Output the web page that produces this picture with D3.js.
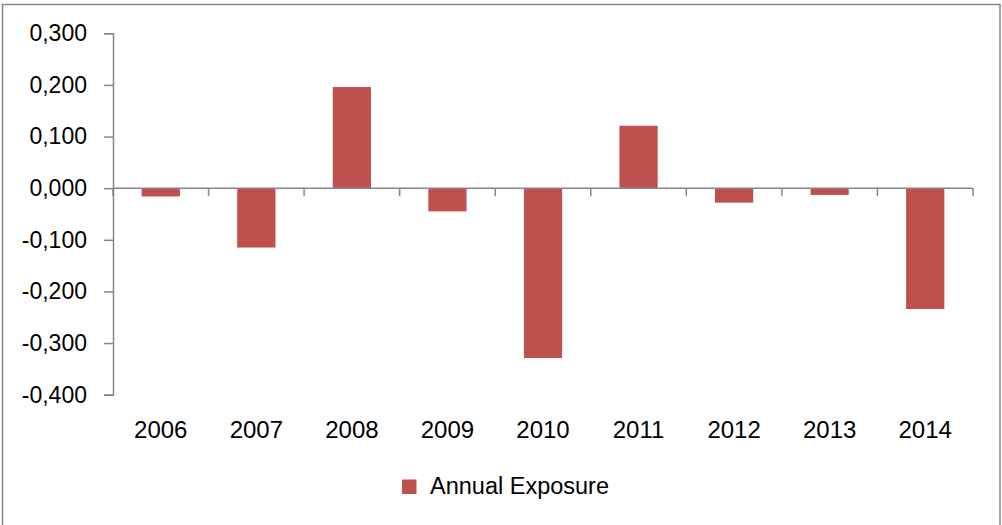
<!DOCTYPE html>
<html>
<head>
<meta charset="utf-8">
<script src="https://cdn.jsdelivr.net/npm/d3@7"></script>
<style>
  html, body { margin: 0; padding: 0; background: #fff; }
  svg { display: block; font-family: "Liberation Sans", Arial, sans-serif; }
</style>
</head>
<body>
<svg id="chart" width="1002" height="525"></svg>
<script>
// Yearly exposure values
const years = ["2006", "2007", "2008", "2009", "2010", "2011", "2012", "2013", "2014"];
const exposure = [-0.016, -0.115, 0.196, -0.045, -0.329, 0.121, -0.028, -0.013, -0.234];
const yTicks = [0.3, 0.2, 0.1, 0, -0.1, -0.2, -0.3, -0.4];
const seriesName = "Annual Exposure";

const W = 1002, H = 525;
const plot = { left: 113, right: 973, top: 33.3, bottom: 394.7 };
const axisColor = "#868686";
const barColor = "#C0504D";

const svg = d3.select("#chart");

// outer chart frame
svg.append("rect")
  .attr("x", 2.5).attr("y", 4.5)
  .attr("width", 997.5).attr("height", 530)
  .attr("fill", "#fff")
  .attr("stroke", axisColor).attr("stroke-width", 1.5);

const x = d3.scaleBand()
  .domain(years)
  .range([plot.left, plot.right])
  .paddingInner(0.6)
  .paddingOuter(0.3);

const y = d3.scaleLinear()
  .domain([-0.4, 0.3])
  .range([plot.bottom, plot.top]);

const fmt = v => d3.format(".3f")(v).replace(".", ",").replace("−", "-");

// bars
svg.append("g").selectAll("rect")
  .data(years.map((yr, i) => ({ yr, v: exposure[i] })))
  .join("rect")
  .attr("x", d => x(d.yr))
  .attr("width", x.bandwidth())
  .attr("y", d => y(Math.max(0, d.v)))
  .attr("height", d => Math.abs(y(d.v) - y(0)))
  .attr("fill", barColor);

// y axis
const yAxis = d3.axisLeft(y)
  .tickValues(yTicks)
  .tickSize(9)
  .tickPadding(17)
  .tickFormat(fmt);

const gy = svg.append("g")
  .attr("transform", `translate(${plot.left},0)`)
  .call(yAxis);
gy.select(".domain").attr("stroke", axisColor).attr("stroke-width", 1.5);
gy.selectAll(".tick line").attr("stroke", axisColor).attr("stroke-width", 1.5);
gy.selectAll(".tick text")
  .attr("fill", "#000")
  .attr("font-size", 23)
  .attr("font-family", "'Liberation Sans', Arial, sans-serif");

// category axis along zero line, ticks at category boundaries
const step = x.step();
const boundaries = d3.range(years.length + 1).map(i => plot.left + i * step);
const gx = svg.append("g");
gx.append("line")
  .attr("x1", plot.left).attr("x2", plot.right)
  .attr("y1", y(0)).attr("y2", y(0))
  .attr("stroke", axisColor).attr("stroke-width", 1.5);
gx.selectAll("line.bound")
  .data(boundaries)
  .join("line")
  .attr("class", "bound")
  .attr("x1", d => d).attr("x2", d => d)
  .attr("y1", y(0)).attr("y2", y(0) + 8)
  .attr("stroke", axisColor).attr("stroke-width", 1.5);

// category labels below the plot
svg.append("g").selectAll("text")
  .data(years)
  .join("text")
  .attr("x", d => x(d) + x.bandwidth() / 2)
  .attr("y", 438)
  .attr("text-anchor", "middle")
  .attr("font-size", 24)
  .attr("fill", "#000")
  .text(d => d);

// legend
const lg = svg.append("g");
lg.append("rect")
  .attr("x", 402).attr("y", 479.5)
  .attr("width", 14.5).attr("height", 14.5)
  .attr("fill", barColor);
lg.append("text")
  .attr("x", 430).attr("y", 494)
  .attr("font-size", 23.5)
  .attr("fill", "#000")
  .text(seriesName);
</script>
</body>
</html>
